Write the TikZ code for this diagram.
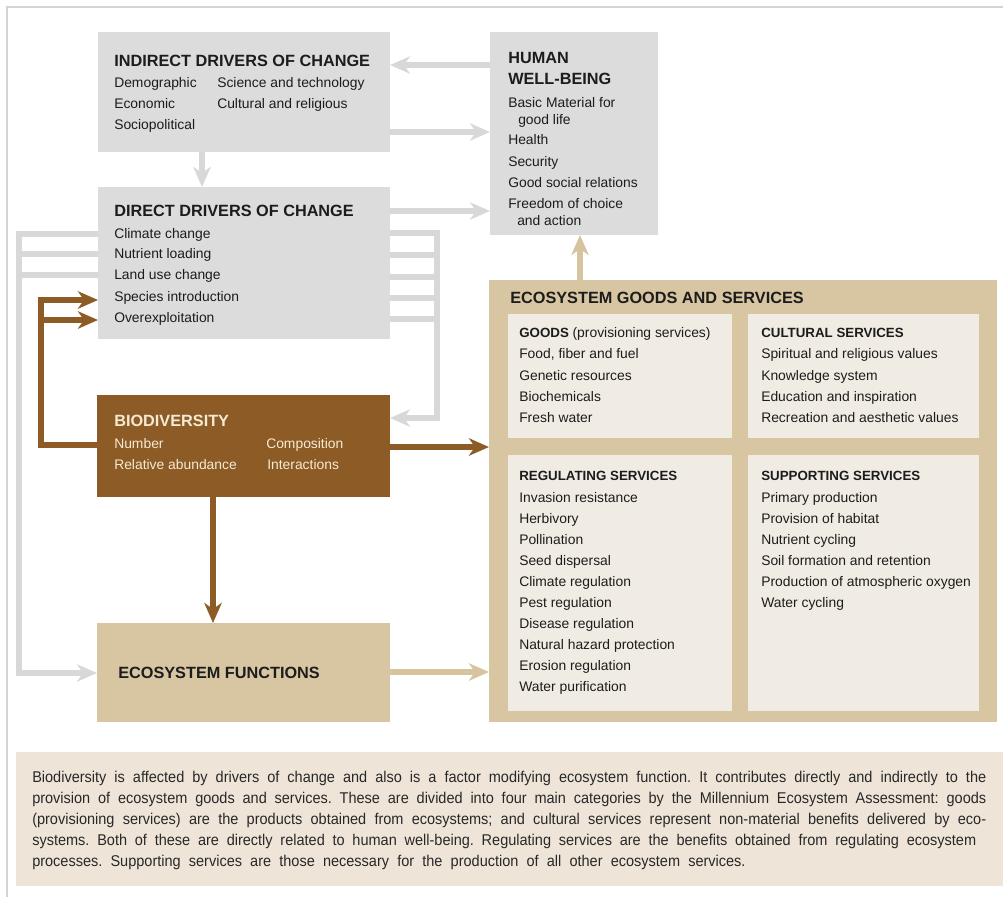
\documentclass[tikz,border=0pt]{standalone}
\usepackage{fontspec}
\setmainfont{Liberation Sans}
\newfontfamily\capfont[FakeStretch=0.93]{Liberation Sans}
\usetikzlibrary{arrows.meta,fit}
\definecolor{gbox}{RGB}{220,220,220}
\definecolor{gln}{RGB}{216,216,216}
\definecolor{brn}{RGB}{140,91,38}
\definecolor{tanbox}{RGB}{216,198,163}
\definecolor{tanarr}{RGB}{214,196,160}
\definecolor{cream}{RGB}{241,236,227}
\definecolor{capbg}{RGB}{238,229,216}
\definecolor{frm}{RGB}{212,212,212}
\definecolor{txt}{RGB}{28,28,28}
\definecolor{captxt}{RGB}{40,40,40}
\definecolor{biotxt}{RGB}{246,234,212}
\frenchspacing
\begin{document}
\begin{tikzpicture}[x=0.75pt,y=-0.75pt,
  box/.style={inner sep=0pt,outer sep=0pt},
  ttl/.style={anchor=base west,inner sep=0pt,font=\fontsize{12.2}{14}\selectfont\bfseries,text=txt},
  itm/.style={anchor=base west,inner sep=0pt,font=\fontsize{10.4}{12}\selectfont,text=txt},
  subttl/.style={anchor=base west,inner sep=0pt,font=\fontsize{10}{12}\selectfont\bfseries,text=txt},
  captxtstyle/.style={anchor=base west,inner sep=0pt,font=\capfont\fontsize{11.7}{13}\selectfont,text=captxt},
  gline/.style={draw=gln,line width=4pt},
  garrow/.style={draw=gln,line width=4.3pt,-{Stealth[length=15pt,width=13pt,inset=4.5pt]}},
  barrow/.style={draw=brn,line width=3.8pt,-{Stealth[length=15pt,width=13pt,inset=4.5pt]}},
  tarrow/.style={draw=tanarr,line width=4.3pt,-{Stealth[length=15pt,width=13pt,inset=4.5pt]}},
]
\useasboundingbox (0,0) rectangle (1003,897);
% frame
\draw[frm,line width=1.5pt] (6.5,897) -- (6.5,6.5) -- (1003,6.5);

% boxes
\node[box,fill=gbox,fit={(98,32) (390,152)}] (ind) {};
\node[box,fill=gbox,fit={(490,32) (658,235)}] (hwb) {};
\node[box,fill=gbox,fit={(98,187) (390,339)}] (dir) {};
\node[box,fill=brn,fit={(97,395) (390,497)}] (bio) {};
\node[box,fill=tanbox,fit={(97,623) (390,722)}] (ef) {};
\node[box,fill=tanbox,fit={(489,280) (997,722)}] (egs) {};
\node[box,fill=cream,fit={(508,314) (732,438)}] (goods) {};
\node[box,fill=cream,fit={(748,314) (979,438)}] (cult) {};
\node[box,fill=cream,fit={(508,455) (732,711)}] (reg) {};
\node[box,fill=cream,fit={(748,455) (979,711)}] (sup) {};
\node[box,fill=capbg,fit={(16,752) (1003,886)}] (cap) {};

% indirect drivers
\node[ttl] (indt) at (114,66) {INDIRECT DRIVERS OF CHANGE};
\node[itm] (ind1) at (114,87) {Demographic};
\node[itm] (ind2) at (114,108) {Economic};
\node[itm] (ind3) at (114,129) {Sociopolitical};
\node[itm] (ind4) at (217,87) {Science and technology};
\node[itm] (ind5) at (217,108) {Cultural and religious};

% human well-being
\node[ttl] (hwbt1) at (508,63) {HUMAN};
\node[ttl] (hwbt2) at (508,84) {WELL-BEING};
\node[itm] (hwb1) at (508,107) {Basic Material for};
\node[itm] (hwb1b) at (518,124) {good life};
\node[itm] (hwb2) at (508,144) {Health};
\node[itm] (hwb3) at (508,166) {Security};
\node[itm] (hwb4) at (508,187) {Good social relations};
\node[itm] (hwb5) at (508,208) {Freedom of choice};
\node[itm] (hwb5b) at (517,225) {and action};

% direct drivers
\node[ttl] (dirt) at (114,216) {DIRECT DRIVERS OF CHANGE};
\node[itm] (dir1) at (114,238) {Climate change};
\node[itm] (dir2) at (114,258) {Nutrient loading};
\node[itm] (dir3) at (114,279) {Land use change};
\node[itm] (dir4) at (114,301) {Species introduction};
\node[itm] (dir5) at (114,322) {Overexploitation};

% biodiversity
\node[ttl,text=biotxt] (biot) at (114,426) {BIODIVERSITY};
\node[itm,text=biotxt] (bio1) at (114,448) {Number};
\node[itm,text=biotxt] (bio2) at (114,469) {Relative abundance};
\node[itm,text=biotxt] (bio3) at (266,448) {Composition};
\node[itm,text=biotxt] (bio4) at (267,469) {Interactions};

% ecosystem functions
\node[ttl] (eft) at (118,678) {ECOSYSTEM FUNCTIONS};

% goods and services
\node[ttl] (egst) at (510,303) {ECOSYSTEM GOODS AND SERVICES};
\node[subttl] (gt) at (519,337) {GOODS \fontsize{10.4}{12}\selectfont\mdseries(provisioning services)};
\node[itm] (g1) at (519,358) {Food, fiber and fuel};
\node[itm] (g2) at (519,380) {Genetic resources};
\node[itm] (g3) at (519,401) {Biochemicals};
\node[itm] (g4) at (519,422) {Fresh water};

\node[subttl] (ct) at (761,337) {CULTURAL SERVICES};
\node[itm] (c1) at (761,358) {Spiritual and religious values};
\node[itm] (c2) at (761,380) {Knowledge system};
\node[itm] (c3) at (761,401) {Education and inspiration};
\node[itm] (c4) at (761,422) {Recreation and aesthetic values};

\node[subttl] (rt) at (519,480) {REGULATING SERVICES};
\node[itm] (r1) at (519,502) {Invasion resistance};
\node[itm] (r2) at (519,523) {Herbivory};
\node[itm] (r3) at (519,544) {Pollination};
\node[itm] (r4) at (519,565) {Seed dispersal};
\node[itm] (r5) at (519,586) {Climate regulation};
\node[itm] (r6) at (519,607) {Pest regulation};
\node[itm] (r7) at (519,628) {Disease regulation};
\node[itm] (r8) at (519,649) {Natural hazard protection};
\node[itm] (r9) at (519,670) {Erosion regulation};
\node[itm] (r10) at (519,691) {Water purification};

\node[subttl] (st) at (761,480) {SUPPORTING SERVICES};
\node[itm] (s1) at (761,502) {Primary production};
\node[itm] (s2) at (761,523) {Provision of habitat};
\node[itm] (s3) at (761,544) {Nutrient cycling};
\node[itm] (s4) at (761,565) {Soil formation and retention};
\node[itm] (s5) at (761,586) {Production of atmospheric oxygen};
\node[itm] (s6) at (761,607) {Water cycling};

% caption
\node[captxtstyle] (cap1) at (32,782) {\makebox[715.5pt][s]{Biodiversity is affected by drivers of change and also is a factor modifying ecosystem function. It contributes directly and indirectly to the}};
\node[captxtstyle] (cap2) at (32,803) {\makebox[715.5pt][s]{provision of ecosystem goods and services. These are divided into four main categories by the Millennium Ecosystem Assessment: goods}};
\node[captxtstyle] (cap3) at (32,824) {\makebox[715.5pt][s]{(provisioning services) are the products obtained from ecosystems; and cultural services represent non-material benefits delivered by eco-}};
\node[captxtstyle] (cap4) at (32,845) {\makebox[708pt][s]{systems. Both of these are directly related to human well-being. Regulating services are the benefits obtained from regulating ecosystem}};
\node[captxtstyle] (cap5) at (32,866) {\makebox[535pt][s]{processes. Supporting services are those necessary for the production of all other ecosystem services.}};

% gray connectors
\draw[garrow] (hwb.west |- 0,65) -- (ind.east |- 0,65);
\draw[garrow] (ind.east |- 0,132) -- (hwb.west |- 0,132);
\draw[garrow] (ind.south -| 202,0) -- (dir.north -| 202,0);
\draw[garrow] (dir.east |- 0,211) -- (hwb.west |- 0,211);
% left bundle to ecosystem functions
\draw[garrow] (dir.west |- 0,234) -| (19,673) -- (ef.west |- 0,673);
\draw[gline] (dir.west |- 0,254) -- (19,254);
\draw[gline] (dir.west |- 0,275) -- (19,275);
% right bundle to biodiversity
\draw[garrow] (dir.east |- 0,233) -| (437,418) -- (bio.east |- 0,418);
\draw[gline] (dir.east |- 0,255) -- (437,255);
\draw[gline] (dir.east |- 0,277) -- (437,277);
\draw[gline] (dir.east |- 0,298) -- (437,298);
\draw[gline] (dir.east |- 0,319) -- (437,319);

% brown connectors
\draw[barrow] (bio.west |- 0,445) -| (41,300) -- (dir.west |- 0,300);
\draw[barrow] (41,320) -- (dir.west |- 0,320);
\draw[barrow] (bio.east |- 0,447) -- (egs.west |- 0,447);
\draw[barrow] (bio.south -| 213,0) -- (ef.north -| 213,0);

% tan connectors
\draw[tarrow] (ef.east |- 0,672) -- (egs.west |- 0,672);
\draw[tarrow] (egs.north -| 580,0) -- (hwb.south -| 580,0);
\end{tikzpicture}
\end{document}
